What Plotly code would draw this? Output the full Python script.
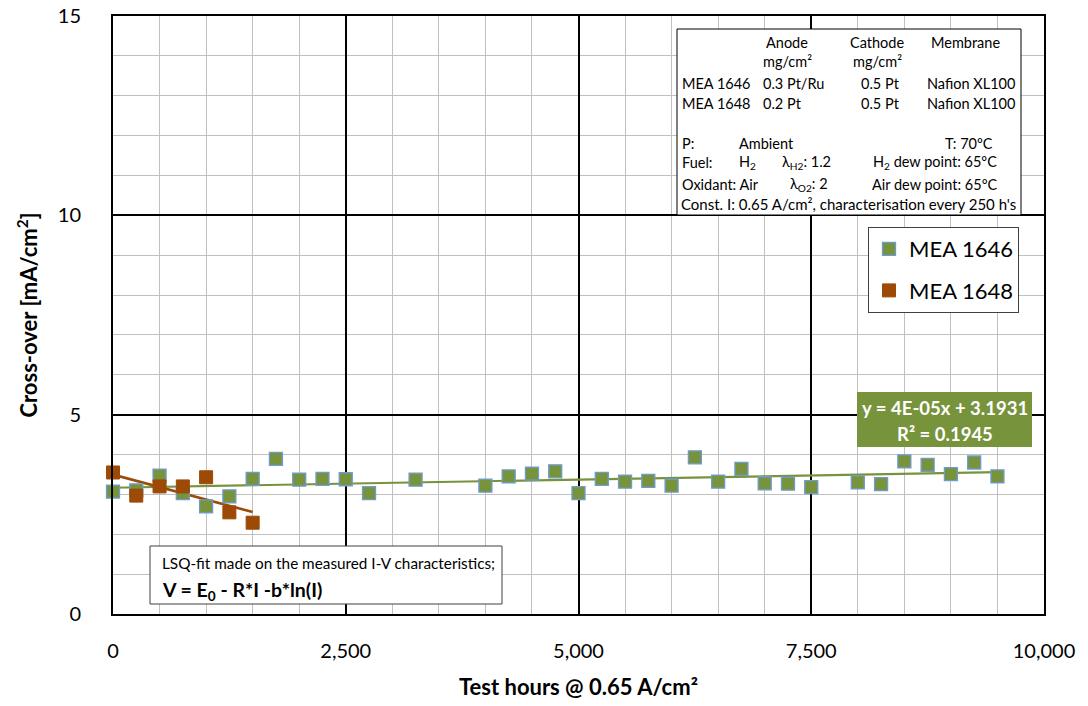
import numpy as np
import plotly.graph_objects as go

# ---------------- data ----------------
hours_1646 = [0, 250, 500, 750, 1000, 1250, 1500, 1750, 2000, 2250, 2500, 2750, 3250,
              4000, 4250, 4500, 4750, 5000, 5250, 5500, 5750, 6000, 6250, 6500, 6750,
              7000, 7250, 7500, 8000, 8250, 8500, 8750, 9000, 9250, 9500]
xover_1646 = [3.07, 3.10, 3.47, 3.03, 2.70, 2.95, 3.39, 3.89, 3.37, 3.39, 3.38, 3.03, 3.37,
              3.22, 3.45, 3.52, 3.58, 3.03, 3.39, 3.32, 3.34, 3.22, 3.93, 3.32, 3.64,
              3.28, 3.27, 3.18, 3.30, 3.26, 3.83, 3.74, 3.51, 3.80, 3.45]
hours_1648 = [0, 250, 500, 750, 1000, 1250, 1500]
xover_1648 = [3.55, 2.97, 3.20, 3.20, 3.43, 2.55, 2.29]

x_ticks = [0, 2500, 5000, 7500, 10000]
x_ticklabels = ["0", "2,500", "5,000", "7,500", "10,000"]
y_ticks = [0, 5, 10, 15]

GREEN = "#77933C"
ORANGE = "#9C4A06"
FONT = "Lato"

# ---------------- geometry helpers (pixel -> paper) ----------------
W, H = 1088, 706
L, R, T, B = 113, 44, 16, 92
PW, PH = W - L - R, H - T - B


def px(x):
    return (x - L) / PW


def py(y):
    return (H - B - y) / PH


fig = go.Figure()

# trend lines (linear least squares)
a1, b1 = np.polyfit(hours_1646, xover_1646, 1)
xt1 = np.array([min(hours_1646), max(hours_1646)])
fig.add_trace(go.Scatter(x=xt1, y=a1 * xt1 + b1, mode="lines", cliponaxis=False,
                         line=dict(color=GREEN, width=2.2), showlegend=False, hoverinfo="skip"))
a2, b2 = np.polyfit(hours_1648, xover_1648, 1)
xt2 = np.array([min(hours_1648), max(hours_1648)])
fig.add_trace(go.Scatter(x=xt2, y=a2 * xt2 + b2, mode="lines", cliponaxis=False,
                         line=dict(color=ORANGE, width=2.6), showlegend=False, hoverinfo="skip"))

fig.add_trace(go.Scatter(x=hours_1646, y=xover_1646, mode="markers", name="MEA 1646",
                         legendgroup="a", cliponaxis=False,
                         marker=dict(symbol="square", size=13, color=GREEN,
                                     line=dict(color="#6F9BD1", width=1.3))))
fig.add_trace(go.Scatter(x=hours_1648, y=xover_1648, mode="markers", name="MEA 1648",
                         legendgroup="b", cliponaxis=False,
                         marker=dict(symbol="square", size=13, color=ORANGE,
                                     line=dict(color=ORANGE, width=1))))

shapes = []
ann = []

# info box
shapes.append(dict(type="rect", xref="paper", yref="paper", x0=px(677), x1=px(1021),
                   y0=py(215), y1=py(29), line=dict(color="black", width=1),
                   fillcolor="white", layer="above"))


def txt(x, y, s, anchor="left", size=14.5, bold=False, color="black"):
    ann.append(dict(x=px(x), y=py(y), xref="paper", yref="paper", text=s,
                    showarrow=False, xanchor=anchor, yanchor="middle",
                    font=dict(family=FONT, size=size, color=color,
                              weight="bold" if bold else "normal")))


txt(787, 43, "Anode", "center")
txt(877, 43, "Cathode", "center")
txt(965, 43, "Membrane", "center")
txt(787, 62, "mg/cm²", "center")
txt(877, 62, "mg/cm²", "center")
txt(680, 83, "MEA 1646")
txt(761, 83, "0.3 Pt/Ru")
txt(880, 83, "0.5 Pt", "center")
txt(1017, 83, "Nafion XL100", "right")
txt(680, 103, "MEA 1648")
txt(761, 103, "0.2 Pt")
txt(880, 103, "0.5 Pt", "center")
txt(1017, 103, "Nafion XL100", "right")
txt(680, 143, "P:")
txt(737, 143, "Ambient")
txt(943, 143, "T: 70ºC")
txt(680, 163, "Fuel:")
txt(737, 163, "H<sub>2</sub>")
txt(780, 163, "λ<sub>H2</sub>: 1.2")
txt(871, 163, "H<sub>2</sub> dew point: 65ºC")
txt(680, 184, "Oxidant: Air")
txt(788, 184, "λ<sub>O2</sub>: 2")
txt(870, 184, "Air dew point: 65ºC")
txt(679, 204, "Const. I: 0.65 A/cm², characterisation every 250 h's", size=15)

# trendline equation label
shapes.append(dict(type="rect", xref="paper", yref="paper", x0=px(857), x1=px(1032),
                   y0=py(447), y1=py(392), line=dict(width=0), fillcolor=GREEN, layer="above"))
txt(944.5, 408, "y = 4E-05x + 3.1931", "center", 18.5, True, "white")
txt(944.5, 434, "R² = 0.1945", "center", 18.5, True, "white")

# LSQ note box
shapes.append(dict(type="rect", xref="paper", yref="paper", x0=px(150), x1=px(502),
                   y0=py(604), y1=py(546), line=dict(color="#404040", width=1),
                   fillcolor="white", layer="above"))
txt(160, 563, "LSQ-fit made on the measured I-V characteristics;", "left", 15.3)
txt(160, 591, "V = E<sub>0</sub> - R*I -b*ln(I)", "left", 19.5, True)

fig.update_layout(
    width=W, height=H,
    margin=dict(l=L, r=R, t=T, b=B, autoexpand=False),
    paper_bgcolor="white", plot_bgcolor="white",
    font=dict(family=FONT, color="black"),
    shapes=shapes, annotations=ann,
    showlegend=True,
    legend=dict(x=px(868), y=py(227), xanchor="left", yanchor="top",
                bgcolor="white", bordercolor="#404040", borderwidth=1,
                font=dict(family=FONT, size=22, color="black"),
                tracegroupgap=10, itemsizing="trace"),
    xaxis=dict(range=[0, 10000], tickvals=x_ticks, ticktext=x_ticklabels,
               showgrid=True, gridcolor="black", gridwidth=2,
               minor=dict(dtick=500, showgrid=True, gridcolor="#C0C0C0", gridwidth=1),
               showline=True, mirror=True, linecolor="black", linewidth=2,
               zeroline=False, ticks="", ticklabelstandoff=18,
               tickfont=dict(family=FONT, size=20),
               title=dict(text="Test hours @ 0.65 A/cm²", standoff=19,
                          font=dict(family=FONT, size=22, weight="bold"))),
    yaxis=dict(range=[0, 15], tickvals=y_ticks,
               showgrid=True, gridcolor="black", gridwidth=2,
               minor=dict(dtick=1, showgrid=True, gridcolor="#C0C0C0", gridwidth=1),
               showline=True, mirror=True, linecolor="black", linewidth=2,
               zeroline=False, ticks="", ticklabelstandoff=26,
               tickfont=dict(family=FONT, size=20),
               title=dict(text="Cross-over [mA/cm<sup>2</sup>]", standoff=14,
                          font=dict(family=FONT, size=22, weight="bold"))),
)

fig.write_html("out.html")
